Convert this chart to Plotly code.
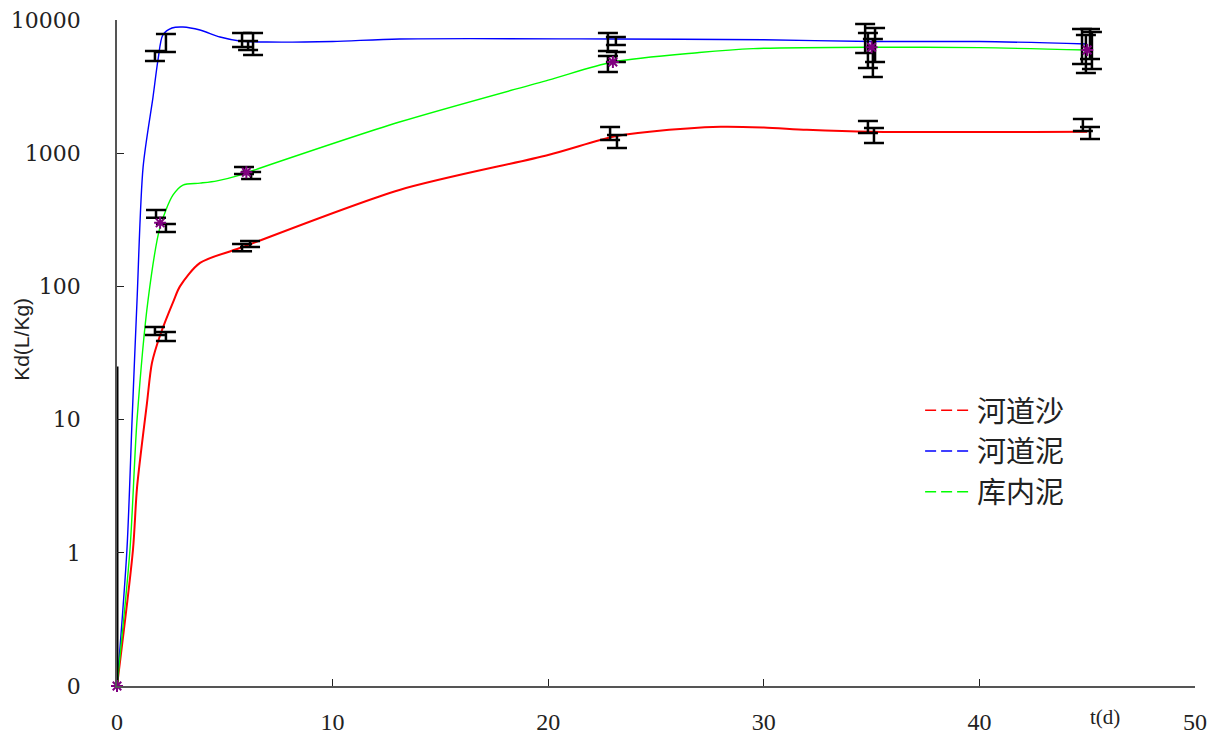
import plotly.graph_objects as go
import math

# ---------------- data ----------------
series_names = ["河道沙", "河道泥", "库内泥"]

# measured time points with markers (库内泥)
t_days = [0, 2, 6, 23, 35, 45]
res_mud_marker_kd = [0.1, 300, 720, 4840, 6250, 5950]

# smooth curves
sand_t = [0, 0.74, 0.93, 1.39, 1.62, 2, 2.64, 2.92, 3.85, 5.7, 13.1, 20, 23, 24.7, 28, 30, 32, 35, 45]
sand_kd = [0.1, 1.05, 3.1, 13.3, 26.6, 43, 79, 100, 150, 194, 530, 970, 1330, 1450, 1580, 1560, 1500, 1450, 1450]

river_mud_t = [0, 0.46, 0.7, 0.93, 1.21, 1.67, 1.9, 2.13, 2.55, 3.06, 3.85, 4.78, 5.7, 6.96, 10, 13.1, 23, 30, 35, 40, 45]
river_mud_kd = [0.1, 1.05, 10, 79, 787, 2640, 5000, 7720, 8710, 8860, 8410, 7450, 6960, 6830, 6900, 7200, 7200, 7100, 6900, 6900, 6600]

res_mud_t = [0, 0.6, 0.93, 1.44, 2, 2.6, 3.06, 3.85, 4.64, 5.7, 6.5, 13.1, 20, 23, 27, 29.5, 35, 40, 45]
res_mud_kd = [0.1, 1.05, 10, 79, 280, 486, 577, 596, 620, 685, 760, 1714, 3540, 4840, 5700, 6100, 6250, 6200, 5950]

# replicate error bars: time, low, high
err_t = [1.76, 2.27, 1.81, 2.27, 1.76, 2.27,
         5.80, 6.08, 6.31, 5.89, 6.22, 5.80, 6.17,
         22.77, 23.14, 22.77, 23.14, 22.87, 23.19,
         34.70, 35.16, 34.83, 35.06, 34.83, 35.11,
         44.76, 45.22, 44.94, 45.13, 44.80, 45.13]
err_lo = [4920, 5750, 327, 256, 43.2, 38.9,
          6270, 5950, 5460, 698, 640, 184, 198,
          5850, 6490, 4070, 4840, 1256, 1094,
          5650, 4840, 4360, 3730, 1419, 1194,
          4680, 4290, 4000, 5090, 1469, 1279]
err_hi = [5850, 7850, 375, 294, 49.6, 45.5,
          7980, 6950, 7980, 787, 722, 208, 219,
          7980, 7450, 5370, 5750, 1573, 1371,
          9330, 8710, 7980, 7200, 1745, 1545,
          8560, 8130, 7720, 8560, 1808, 1573]
# vertical bar at t=0
zero_bar_t = [0]
zero_bar_lo = [0.1]
zero_bar_hi = [25]

y_tick_vals = [0.1, 1, 10, 100, 1000, 10000]
y_tick_text = ["0", "1", "10", "100", "1000", "10000"]
x_tick_vals = [0, 10, 20, 30, 40, 50]

colors = ["#ff0000", "#0000ff", "#00ff00"]

fig = go.Figure()

# smooth curves
for tt, vals, c, w in zip([sand_t, river_mud_t, res_mud_t],
                          [sand_kd, river_mud_kd, res_mud_kd], colors, [2, 1.4, 1.4]):
    fig.add_trace(go.Scatter(x=tt, y=vals, mode="lines",
                             line=dict(color=c, width=w, shape="spline", smoothing=0.8),
                             showlegend=False, hoverinfo="skip"))

# error bars
centers = [math.sqrt(l * h) for l, h in zip(err_lo, err_hi)]
fig.add_trace(go.Scatter(
    x=err_t, y=centers, mode="markers",
    marker=dict(size=1, color="rgba(0,0,0,0)"),
    error_y=dict(type="data", symmetric=False,
                 array=[h - c for h, c in zip(err_hi, centers)],
                 arrayminus=[c - l for l, c in zip(err_lo, centers)],
                 color="black", thickness=2.5, width=10),
    showlegend=False, hoverinfo="skip", cliponaxis=False))

zc = [math.sqrt(l * h) for l, h in zip(zero_bar_lo, zero_bar_hi)]
fig.add_trace(go.Scatter(
    x=zero_bar_t, y=zc, mode="markers",
    marker=dict(size=1, color="rgba(0,0,0,0)"),
    error_y=dict(type="data", symmetric=False,
                 array=[h - c for h, c in zip(zero_bar_hi, zc)],
                 arrayminus=[c - l for l, c in zip(zero_bar_lo, zc)],
                 color="black", thickness=3, width=0),
    showlegend=False, hoverinfo="skip", cliponaxis=False))

# markers (purple asterisks)
fig.add_trace(go.Scatter(x=t_days, y=res_mud_marker_kd, mode="markers",
                         marker=dict(symbol="asterisk-open", size=10, color="#800080",
                                     line=dict(color="#800080", width=2)),
                         showlegend=False, hoverinfo="skip", cliponaxis=False))

# legend entries (dashed)
for i, (name, c) in enumerate(zip(series_names, colors)):
    fig.add_trace(go.Scatter(x=[None], y=[None], mode="lines", name=name,
                             legendgroup=str(i),
                             line=dict(color=c, width=1.5, dash="11px,5px")))

# the page body adds an 8px margin, so the figure is sized to fit inside it
fig.update_layout(
    width=1201, height=726,
    margin=dict(l=109, r=14, t=12, b=48, autoexpand=False),
    paper_bgcolor="white", plot_bgcolor="white",
    showlegend=True,
    legend=dict(x=0.745, y=0.452, xanchor="left", yanchor="top",
                font=dict(family="Noto Sans CJK SC", size=29, color="#222"),
                bgcolor="rgba(0,0,0,0)", tracegroupgap=0, itemwidth=47),
    xaxis=dict(range=[0, 50], tickvals=x_tick_vals, automargin=False,
               ticks="inside", ticklen=7, tickcolor="#222", tickwidth=1,
               showline=True, linecolor="#555", linewidth=2,
               showgrid=False, zeroline=False, ticklabeloverflow="allow",
               tickfont=dict(family="Liberation Serif", size=24, color="#222"),
               ticklabelstandoff=13),
    yaxis=dict(type="log", range=[-1, 4], tickvals=y_tick_vals, ticktext=y_tick_text,
               automargin=False, ticklabeloverflow="allow",
               ticks="inside", ticklen=7, tickcolor="#222", tickwidth=1,
               showline=True, linecolor="#555", linewidth=1.5,
               showgrid=False, zeroline=False,
               tickfont=dict(family="DejaVu Serif", size=22, color="#222"),
               ticklabelstandoff=30),
    annotations=[
        dict(text="Kd(L/Kg)", x=-0.088, y=0.52, xref="paper", yref="paper",
             xanchor="center", yanchor="middle",
             textangle=-90, showarrow=False,
             font=dict(family="Liberation Sans", size=21, color="#222")),
        dict(text="t(d)", x=0.9165, y=-0.0465, xref="paper", yref="paper",
             xanchor="center", yanchor="middle",
             showarrow=False,
             font=dict(family="Liberation Serif", size=21, color="#222")),
    ],
)

fig.write_html("out.html")
